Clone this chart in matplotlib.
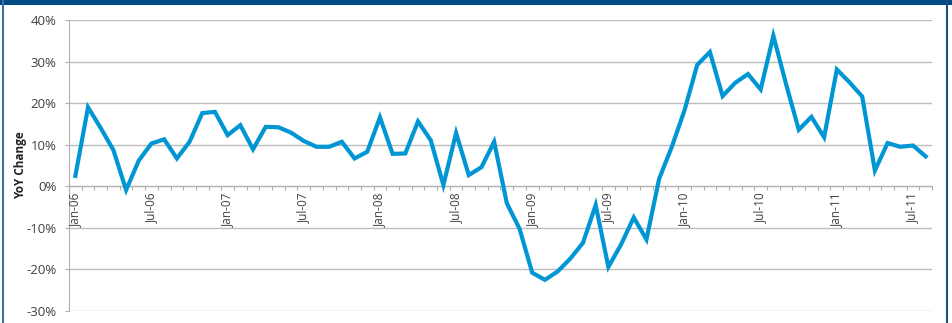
import numpy as np
import matplotlib.pyplot as plt
from matplotlib.lines import Line2D

plt.rcParams['font.family'] = ['Open Sans', 'DejaVu Sans']

# Monthly YoY change (%), Jan-06 .. Aug-11
months = ['Jan', 'Feb', 'Mar', 'Apr', 'May', 'Jun', 'Jul', 'Aug', 'Sep', 'Oct', 'Nov', 'Dec']
years = ['06', '07', '08', '09', '10', '11']
yoy_2006 = [2.5, 19.0, 14.0, 8.7, -0.9, 6.2, 10.3, 11.3, 6.7, 10.7, 17.6, 17.9]
yoy_2007 = [12.3, 14.7, 8.9, 14.3, 14.2, 12.9, 10.9, 9.5, 9.5, 10.7, 6.7, 8.3]
yoy_2008 = [16.6, 7.8, 7.9, 15.6, 11.1, 0.3, 12.8, 2.7, 4.6, 10.7, -4.1, -10.2]
yoy_2009 = [-20.8, -22.5, -20.5, -17.4, -13.6, -4.5, -19.4, -14.0, -7.5, -12.8, 1.8, 9.5]
yoy_2010 = [18.3, 29.2, 32.3, 21.7, 24.9, 27.0, 23.3, 36.2, 24.6, 13.6, 16.7, 11.8]
yoy_2011 = [28.1, 25.0, 21.6, 3.8, 10.4, 9.5, 9.8, 7.2]

values = np.array(yoy_2006 + yoy_2007 + yoy_2008 + yoy_2009 + yoy_2010 + yoy_2011)
labels = [m + '-' + y for y in years for m in months][:len(values)]
x = np.arange(len(values))

fig = plt.figure(figsize=(9.53, 3.23), dpi=100)
ax = fig.add_axes([69 / 953, 1 - 311 / 323, (932 - 69) / 953, 291 / 323])

ax.plot(x, values, color='#0096D4', lw=3.0, solid_joinstyle='miter', zorder=3)

ax.set_xlim(-0.5, len(values) - 0.5)
ax.set_ylim(-30, 40)
ax.set_yticks(np.arange(-30, 41, 10))
ax.set_yticklabels(['%d%%' % v for v in range(-30, 41, 10)])
ax.tick_params(axis='y', length=3, width=0.8, color='#b0b0b0', pad=6,
               labelsize=9.5, labelcolor='#404040')
ax.grid(axis='y', color='#bdbdbd', lw=1.0)
ax.set_axisbelow(True)

# category axis drawn along the 0% line
ax.spines['bottom'].set_position(('data', 0))
ax.spines['bottom'].set_color('#b0b0b0')
ax.set_xticks(np.arange(-0.5, len(values), 1))
ax.set_xticklabels([])
ax.tick_params(axis='x', direction='out', length=3, width=0.8, color='#b0b0b0')
for i in range(0, len(values), 6):
    ax.text(i, -1.5, labels[i], rotation=90, ha='center', va='top',
            fontsize=8.5, color='#404040')

for s in ['top', 'right']:
    ax.spines[s].set_visible(False)
ax.spines['left'].set_color('#b0b0b0')

ax.set_ylabel('YoY Change', fontsize=8.5, fontweight='bold', color='#222222')
ax.yaxis.set_label_coords((27 - 69) / 863, (311 - 165) / 291)

# frame
fig.add_artist(plt.Rectangle((0, 1 - 5 / 323), 1, 5 / 323, transform=fig.transFigure,
                             color='#004A86', lw=0))
fig.add_artist(Line2D([3.5 / 953, 3.5 / 953], [0, 1], transform=fig.transFigure,
                      color='#3D6EA5', lw=1.5))
fig.add_artist(Line2D([947.5 / 953, 947.5 / 953], [0, 1], transform=fig.transFigure,
                      color='#1F4E85', lw=1.5))

fig.savefig('out.png', dpi=100)
